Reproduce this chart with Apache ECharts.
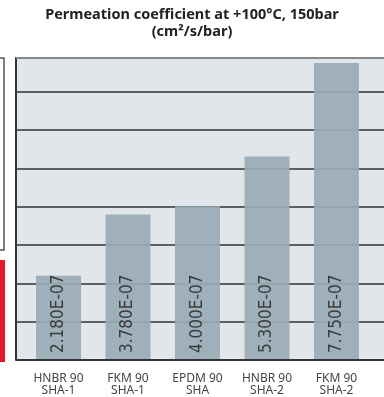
<!DOCTYPE html>
<html>
<head>
<meta charset="utf-8">
<title>Permeation coefficient</title>
<script src="https://cdn.jsdelivr.net/npm/echarts@6/dist/echarts.min.js"></script>
<style>
  html, body { margin: 0; padding: 0; background: #fff; }
  #chart { width: 384px; height: 397px; }
</style>
</head>
<body>
<div id="chart"></div>
<script>
// --- data ---
const categories = ['HNBR 90\nSHA-1', 'FKM 90\nSHA-1', 'EPDM 90\nSHA', 'HNBR 90\nSHA-2', 'FKM 90\nSHA-2']
const values = [2.18, 3.78, 4.0, 5.3, 7.75]          // x 1E-07 cm²/s/bar
const valueLabels = ['2.180E-07', '3.780E-07', '4.000E-07', '5.300E-07', '7.750E-07']
const yMin = 0
const yMax = 7.88
const yStep = 1

// --- colours ---
const PLOT_BG = '#e1e6ea'
const BAR_COLOR = '#9aabb7'
const GRID_LINE = '#5e5e5e'
const AXIS_LINE = '#333'

const chart = echarts.init(document.getElementById('chart'))

const option = {
  animation: false,
  backgroundColor: '#fff',
  title: {
    text: 'Permeation coefficient at +100°C, 150bar\n(cm²/s/bar)',
    left: 'center',
    top: 6,
    padding: [0, 0, 0, 10],
    textStyle: {
      fontFamily: 'Noto Sans',
      fontWeight: 'bold',
      fontSize: 14.5,
      lineHeight: 17,
      color: '#222'
    }
  },
  grid: [
    // background plot area, runs past the right edge
    { left: 16, top: 58, right: -10, bottom: 37, show: true, backgroundColor: PLOT_BG, borderWidth: 0 },
    // bars
    { left: 23.75, top: 58, width: 347.5, bottom: 37 }
  ],
  xAxis: [
    { gridIndex: 0, type: 'value', show: false, min: 0, max: 1 },
    {
      gridIndex: 1,
      type: 'category',
      data: categories,
      axisLine: { show: false },
      axisTick: { show: false },
      axisLabel: {
        color: '#444',
        fontFamily: 'Noto Sans',
        fontSize: 12,
        lineHeight: 12,
        margin: 14
      }
    }
  ],
  yAxis: [
    {
      gridIndex: 0,
      type: 'value',
      min: yMin,
      max: yMax,
      interval: yStep,
      axisLabel: { show: false },
      axisTick: { show: false },
      axisLine: { show: true, lineStyle: { color: AXIS_LINE, width: 2 } },
      splitLine: { show: true, lineStyle: { color: GRID_LINE, width: 2 } }
    },
    { gridIndex: 1, type: 'value', min: yMin, max: yMax, show: false }
  ],
  series: [
    {
      type: 'bar',
      xAxisIndex: 1,
      yAxisIndex: 1,
      data: values,
      barWidth: 45,
      itemStyle: { color: BAR_COLOR, opacity: 0.93 },
      label: {
        show: true,
        position: 'insideBottom',
        rotate: 90,
        align: 'left',
        verticalAlign: 'middle',
        distance: 6,
        color: '#333',
        fontFamily: 'Liberation Sans Narrow, DejaVu Sans Condensed, sans-serif',
        fontSize: 17,
        formatter: p => valueLabels[p.dataIndex]
      }
    }
  ],
  graphic: [
    // bottom axis line
    { type: 'line', shape: { x1: 16, y1: 360, x2: 384, y2: 360 }, style: { stroke: AXIS_LINE, lineWidth: 2 }, z: 10 },
    // top frame line
    { type: 'line', shape: { x1: 16, y1: 58, x2: 384, y2: 58 }, style: { stroke: '#888', lineWidth: 2 }, z: 10 },
    // cropped legend box at left
    { type: 'polyline', shape: { points: [[0, 58], [4, 58], [4, 250], [0, 250]] }, style: { stroke: '#555', lineWidth: 1.5, fill: null } },
    // red marker at left
    { type: 'rect', shape: { x: 0, y: 260, width: 5, height: 102 }, style: { fill: '#e8192c' } }
  ]
}

chart.setOption(option)
</script>
</body>
</html>
